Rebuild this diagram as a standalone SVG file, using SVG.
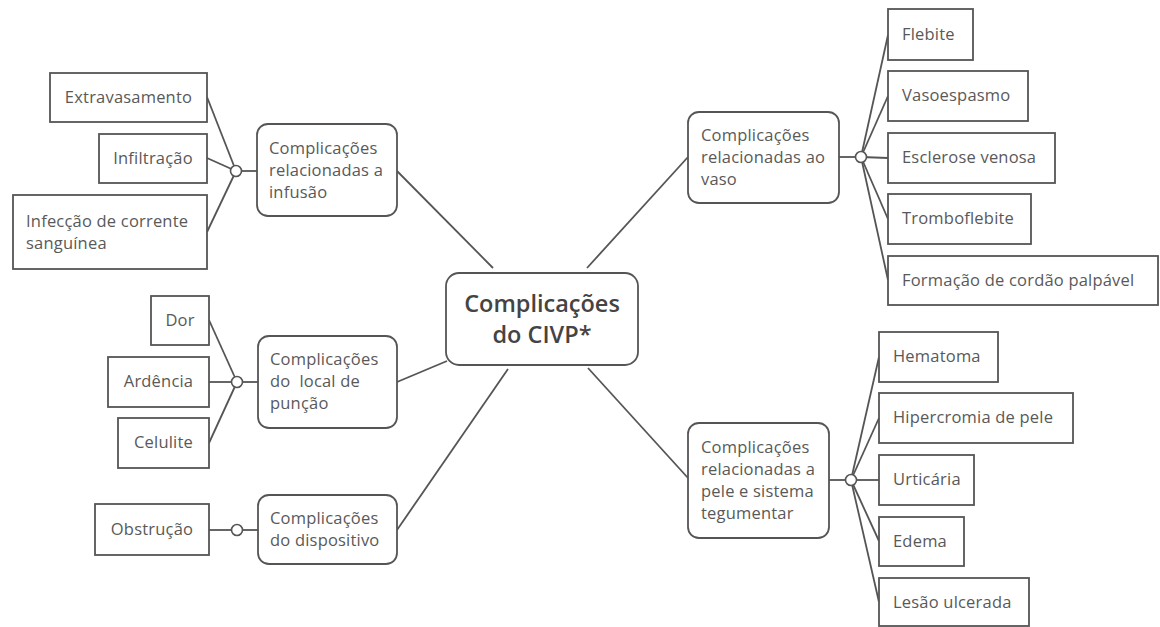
<svg xmlns="http://www.w3.org/2000/svg" width="1160" height="627" viewBox="0 0 1160 627">
<style>
.leaf{fill:#fff;stroke:#555;stroke-width:1.8}
.mid{fill:#fff;stroke:#555;stroke-width:1.8}
.t{font-family:"Open Sans",Lato,sans-serif;font-size:16.5px;letter-spacing:0.2px;fill:#595959}
.title{font-family:"Open Sans",Lato,sans-serif;font-size:23.5px;font-weight:600;fill:#444}
.c{fill:none;stroke:#555;stroke-width:1.8}
.dot{fill:#fff;stroke:#555;stroke-width:1.6}
</style>
<rect width="1160" height="627" fill="#fff"/>
<g id="connectors">
<line class="c" x1="397" y1="171" x2="493" y2="268"/>
<line class="c" x1="397" y1="382" x2="447" y2="361"/>
<line class="c" x1="397" y1="530" x2="508" y2="369"/>
<line class="c" x1="587" y1="268" x2="688" y2="157"/>
<line class="c" x1="588" y1="368" x2="688" y2="478"/>
<line class="c" x1="236" y1="171" x2="257" y2="171"/>
<line class="c" x1="236" y1="171" x2="207" y2="97"/>
<line class="c" x1="236" y1="171" x2="207" y2="158"/>
<line class="c" x1="236" y1="171" x2="207" y2="232"/>
<line class="c" x1="237" y1="382" x2="258" y2="382"/>
<line class="c" x1="237" y1="382" x2="209" y2="320"/>
<line class="c" x1="237" y1="382" x2="209" y2="382"/>
<line class="c" x1="237" y1="382" x2="209" y2="443"/>
<line class="c" x1="237" y1="530" x2="258" y2="530"/>
<line class="c" x1="237" y1="530" x2="209" y2="530"/>
<line class="c" x1="839" y1="157" x2="861" y2="157"/>
<line class="c" x1="861" y1="157" x2="888" y2="35"/>
<line class="c" x1="861" y1="157" x2="888" y2="96"/>
<line class="c" x1="861" y1="157" x2="888" y2="158"/>
<line class="c" x1="861" y1="157" x2="888" y2="219"/>
<line class="c" x1="861" y1="157" x2="888" y2="280"/>
<line class="c" x1="829" y1="480" x2="851" y2="480"/>
<line class="c" x1="851" y1="480" x2="879" y2="357"/>
<line class="c" x1="851" y1="480" x2="879" y2="418"/>
<line class="c" x1="851" y1="480" x2="879" y2="480"/>
<line class="c" x1="851" y1="480" x2="879" y2="541"/>
<line class="c" x1="851" y1="480" x2="879" y2="602"/>
<circle class="dot" cx="236" cy="171" r="5.5"/>
<circle class="dot" cx="237" cy="382" r="5.5"/>
<circle class="dot" cx="237" cy="530" r="5.5"/>
<circle class="dot" cx="861" cy="157" r="5.5"/>
<circle class="dot" cx="851" cy="480" r="5.5"/>
</g>
<g id="center">
<rect class="mid" x="446" y="273" width="192" height="92" rx="13"/>
<text class="title" x="542" y="312" text-anchor="middle">Complicações</text>
<text class="title" x="542" y="343" text-anchor="middle">do CIVP*</text>
</g>
<g id="infusao">
<rect class="mid" x="257" y="124" width="140" height="92" rx="11"/>
<text class="t" x="269" y="154">Complicações</text>
<text class="t" x="269" y="176">relacionadas a</text>
<text class="t" x="269" y="198">infusão</text>
</g>
<g id="puncao">
<rect class="mid" x="258" y="336" width="139" height="92" rx="11"/>
<text class="t" x="270" y="365">Complicações</text>
<text class="t" x="270" y="387" xml:space="preserve">do  local de</text>
<text class="t" x="270" y="409">punção</text>
</g>
<g id="dispositivo">
<rect class="mid" x="258" y="495" width="139" height="69" rx="11"/>
<text class="t" x="270" y="524">Complicações</text>
<text class="t" x="270" y="546">do dispositivo</text>
</g>
<g id="vaso">
<rect class="mid" x="688" y="112" width="151" height="91" rx="11"/>
<text class="t" x="701" y="141">Complicações</text>
<text class="t" x="701" y="163">relacionadas ao</text>
<text class="t" x="701" y="185">vaso</text>
</g>
<g id="pele">
<rect class="mid" x="688" y="423" width="141" height="115" rx="11"/>
<text class="t" x="701" y="453">Complicações</text>
<text class="t" x="701" y="475">relacionadas a</text>
<text class="t" x="701" y="497">pele e sistema</text>
<text class="t" x="701" y="519">tegumentar</text>
</g>
<g id="extravasamento">
<rect class="leaf" x="50" y="73" width="157" height="49"/>
<text class="t" x="128.5" y="103" text-anchor="middle">Extravasamento</text>
</g>
<g id="infiltracao">
<rect class="leaf" x="99" y="134" width="108" height="49"/>
<text class="t" x="153" y="164" text-anchor="middle">Infiltração</text>
</g>
<g id="infeccao">
<rect class="leaf" x="13" y="195" width="194" height="74"/>
<text class="t" x="26" y="227">Infecção de corrente</text>
<text class="t" x="26" y="249">sanguínea</text>
</g>
<g id="dor">
<rect class="leaf" x="151" y="296" width="58" height="49"/>
<text class="t" x="180" y="326" text-anchor="middle">Dor</text>
</g>
<g id="ardencia">
<rect class="leaf" x="108" y="357" width="101" height="50"/>
<text class="t" x="158.5" y="387" text-anchor="middle">Ardência</text>
</g>
<g id="celulite">
<rect class="leaf" x="118" y="418" width="91" height="50"/>
<text class="t" x="163.5" y="448" text-anchor="middle">Celulite</text>
</g>
<g id="obstrucao">
<rect class="leaf" x="95" y="504" width="114" height="51"/>
<text class="t" x="152" y="535" text-anchor="middle">Obstrução</text>
</g>
<g id="flebite">
<rect class="leaf" x="888" y="9" width="85" height="51"/>
<text class="t" x="902" y="40">Flebite</text>
</g>
<g id="vasoespasmo">
<rect class="leaf" x="888" y="71" width="140" height="50"/>
<text class="t" x="902" y="101">Vasoespasmo</text>
</g>
<g id="esclerose">
<rect class="leaf" x="888" y="133" width="167" height="50"/>
<text class="t" x="902" y="163">Esclerose venosa</text>
</g>
<g id="tromboflebite">
<rect class="leaf" x="888" y="194" width="143" height="50"/>
<text class="t" x="902" y="224">Tromboflebite</text>
</g>
<g id="formacao">
<rect class="leaf" x="888" y="256" width="270" height="49"/>
<text class="t" x="902" y="286">Formação de cordão palpável</text>
</g>
<g id="hematoma">
<rect class="leaf" x="879" y="332" width="119" height="50"/>
<text class="t" x="893" y="362">Hematoma</text>
</g>
<g id="hipercromia">
<rect class="leaf" x="879" y="393" width="194" height="50"/>
<text class="t" x="893" y="423">Hipercromia de pele</text>
</g>
<g id="urticaria">
<rect class="leaf" x="879" y="455" width="95" height="50"/>
<text class="t" x="893" y="485">Urticária</text>
</g>
<g id="edema">
<rect class="leaf" x="879" y="517" width="85" height="49"/>
<text class="t" x="893" y="547">Edema</text>
</g>
<g id="lesao">
<rect class="leaf" x="879" y="578" width="150" height="48"/>
<text class="t" x="893" y="608">Lesão ulcerada</text>
</g>
</svg>
